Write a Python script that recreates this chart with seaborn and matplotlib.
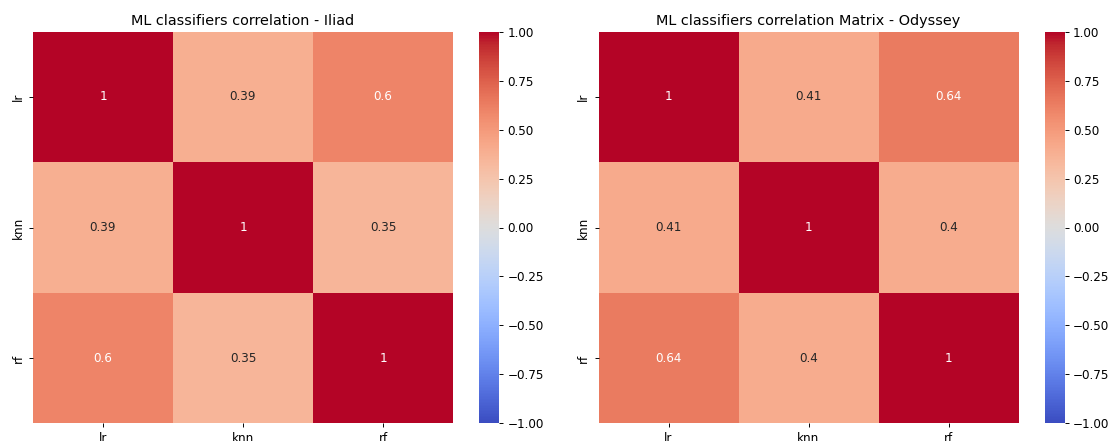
import numpy as np
import pandas as pd
import matplotlib
matplotlib.use("Agg")
import matplotlib.pyplot as plt
import seaborn as sns

labels = ["lr", "knn", "rf"]
iliad = [[1.0, 0.39, 0.6],
         [0.39, 1.0, 0.35],
         [0.6, 0.35, 1.0]]
odyssey = [[1.0, 0.41, 0.64],
           [0.41, 1.0, 0.4],
           [0.64, 0.4, 1.0]]

df_i = pd.DataFrame(iliad, index=labels, columns=labels)
df_o = pd.DataFrame(odyssey, index=labels, columns=labels)

W, H = 1110, 441
DPI = 86
fig = plt.figure(figsize=(W / DPI, H / DPI), dpi=DPI)

def box(x0, x1, y0, y1):
    return [x0 / W, (H - y1) / H, (x1 - x0) / W, (y1 - y0) / H]

ax1 = fig.add_axes(box(33, 453, 31.7, 423.3))
cax1 = fig.add_axes(box(479, 499, 31.7, 423.3))
ax2 = fig.add_axes(box(598.5, 1018.5, 31.7, 423.3))
cax2 = fig.add_axes(box(1045, 1064.5, 31.7, 423.3))

sns.heatmap(df_i, annot=True, cmap="coolwarm", vmin=-1, vmax=1, ax=ax1, cbar_ax=cax1)
ax1.set_title("ML classifiers correlation - Iliad")
sns.heatmap(df_o, annot=True, cmap="coolwarm", vmin=-1, vmax=1, ax=ax2, cbar_ax=cax2)
ax2.set_title("ML classifiers correlation Matrix - Odyssey")
fig.savefig("out.png", dpi=DPI)
